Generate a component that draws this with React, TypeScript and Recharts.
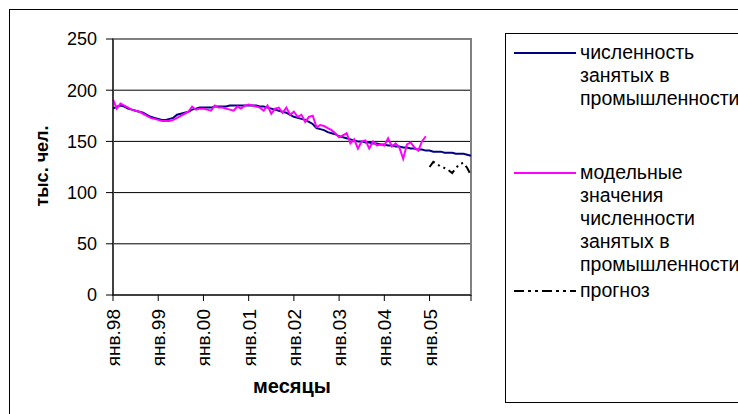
import React from 'react';
import { LineChart, Line, XAxis, YAxis, CartesianGrid, ReferenceArea } from 'recharts';

// months Jan 1998 .. Dec 2005 (index 0..95)
const monthLabels = ['янв.98', 'янв.99', 'янв.00', 'янв.01', 'янв.02', 'янв.03', 'янв.04', 'янв.05'];
const xTicks = [0, 12, 24, 36, 48, 60, 72, 84, 95];
const yTicks = [0, 50, 100, 150, 200, 250];

// численность занятых в промышленности, тыс. чел.
const actual = [
  182, 184, 185, 184, 182, 181, 180, 179, 178, 176, 174, 173,
  172, 171, 171, 172, 173, 176, 177, 178, 179, 181, 182, 183,
  183, 183, 183, 184, 184, 184, 184, 185, 185, 185, 185, 185,
  185, 185, 185, 184, 184, 183, 182, 181, 180, 179, 178, 176,
  174, 173, 172, 171, 169, 167, 163, 162, 161, 159, 158, 157,
  155, 154, 153, 152, 151, 150, 150, 149, 149, 148, 148, 147,
  147, 146, 146, 145, 145, 144, 144, 143, 143, 142, 142, 141,
  141, 140, 140, 140, 139, 139, 139, 138, 138, 138, 137, 136,
];

// модельные значения (янв.98 .. дек.04)
const model = [
  191, 182, 187, 185, 183, 181, 180, 179, 177, 175, 173, 172,
  171, 170, 170, 170, 171, 173, 175, 177, 179, 184, 181, 182,
  182, 181, 180, 185, 183, 183, 182, 181, 180, 184, 182, 185,
  186, 185, 184, 183, 180, 185, 177, 182, 183, 178, 183, 176,
  179, 174, 176, 169, 174, 175, 164, 166, 165, 163, 161, 158,
  154, 156, 158, 148, 152, 143, 150, 151, 143, 150, 146, 147,
  146, 153, 145, 148, 144, 133, 147, 149, 144, 141, 150, 155,
];

// прогноз (янв.05 .. дек.05)
const forecast = [125, 130, 128, 125, 124, 122, 119, 124, 128, 129, 124, 117];
const forecastStart = 84;

const data = actual.map((v, i) => ({
  i,
  actual: v,
  model: i < model.length ? model[i] : null,
  forecast: i >= forecastStart ? forecast[i - forecastStart] : null,
}));

const FONT = 'Arial, "Liberation Sans", sans-serif';

const MonthTick = (props: any) => {
  const { x, y, payload } = props;
  const idx = xTicks.indexOf(payload.value);
  const label = payload.value < 95 ? monthLabels[idx] : '';
  return (
    <text
      transform={`translate(${x + 7},${y + 8}) rotate(-90)`}
      textAnchor="end"
      fontSize={19}
      fontFamily={FONT}
      fill="#000"
    >
      {label}
    </text>
  );
};

const legendItems = [
  { lines: ['численность', 'занятых в', 'промышленности'], color: '#000080', dash: undefined, top: 40 },
  { lines: ['модельные', 'значения', 'численности', 'занятых в', 'промышленности'], color: '#FF00FF', dash: undefined, top: 160 },
  { lines: ['прогноз'], color: '#000', dash: '10 4 3 4 3 4', top: 278 },
];

export default function App() {
  return (
    <div style={{ position: 'fixed', left: 0, top: 0, width: 738, height: 414, overflow: 'hidden', background: '#fff', fontFamily: FONT }}>
      <div style={{ position: 'absolute', left: 9, top: 9, width: 800, height: 500, border: '1px solid #000' }} />
      <div style={{ position: 'absolute', left: 0, top: 0 }}>
        <LineChart width={738} height={414} data={data} margin={{ top: 39, right: 267, bottom: 59, left: 53 }}>
          <CartesianGrid horizontal vertical={false} stroke="#000" strokeWidth={1} />
          <ReferenceArea x1={0} x2={95} y1={0} y2={250} fill="none" stroke="#808080" strokeWidth={2} ifOverflow="visible" />
          <XAxis
            dataKey="i"
            type="number"
            domain={[0, 95]}
            ticks={xTicks}
            interval={0}
            height={60}
            tickSize={6}
            tickMargin={0}
            axisLine={{ stroke: '#000' }}
            tickLine={{ stroke: '#000' }}
            tick={<MonthTick />}
          />
          <YAxis
            type="number"
            domain={[0, 250]}
            ticks={yTicks}
            width={60}
            tickSize={7}
            tickMargin={9}
            axisLine={{ stroke: '#000' }}
            tickLine={{ stroke: '#000' }}
            tick={{ fill: '#000', fontSize: 18, fontFamily: FONT }}
          />
          <Line dataKey="actual" stroke="#000080" strokeWidth={2} dot={false} isAnimationActive={false} />
          <Line dataKey="model" stroke="#FF00FF" strokeWidth={2} dot={false} isAnimationActive={false} connectNulls={false} />
          <Line dataKey="forecast" stroke="#000" strokeWidth={2} strokeDasharray="8 4 2 4 2 4" dot={false} isAnimationActive={false} connectNulls={false} />
          <text x={42} y={166} transform="rotate(-90 42 166)" textAnchor="middle" dominantBaseline="central" fontSize={18} fontWeight="bold" fontFamily={FONT} fill="#000">
            тыс. чел.
          </text>
          <text x={292} y={386} textAnchor="middle" dominantBaseline="central" fontSize={20} fontWeight="bold" fontFamily={FONT} fill="#000">
            месяцы
          </text>
        </LineChart>
      </div>
      <div style={{ position: 'absolute', left: 505, top: 33, width: 300, height: 368, border: '1px solid #000' }}>
        {legendItems.map((it) => (
          <div key={it.lines[0]} style={{ position: 'absolute', left: 0, top: it.top - 33 }}>
            <svg width={75} height={24} style={{ position: 'absolute', left: 6, top: 0 }}>
              <line x1={2} y1={12} x2={64} y2={12} stroke={it.color} strokeWidth={2} strokeDasharray={it.dash} />
            </svg>
            <div style={{ position: 'absolute', left: 74, top: 0, fontSize: 19.5, lineHeight: '23px', color: '#000', whiteSpace: 'nowrap' }}>
              {it.lines.map((l) => (
                <div key={l}>{l}</div>
              ))}
            </div>
          </div>
        ))}
      </div>
    </div>
  );
}
